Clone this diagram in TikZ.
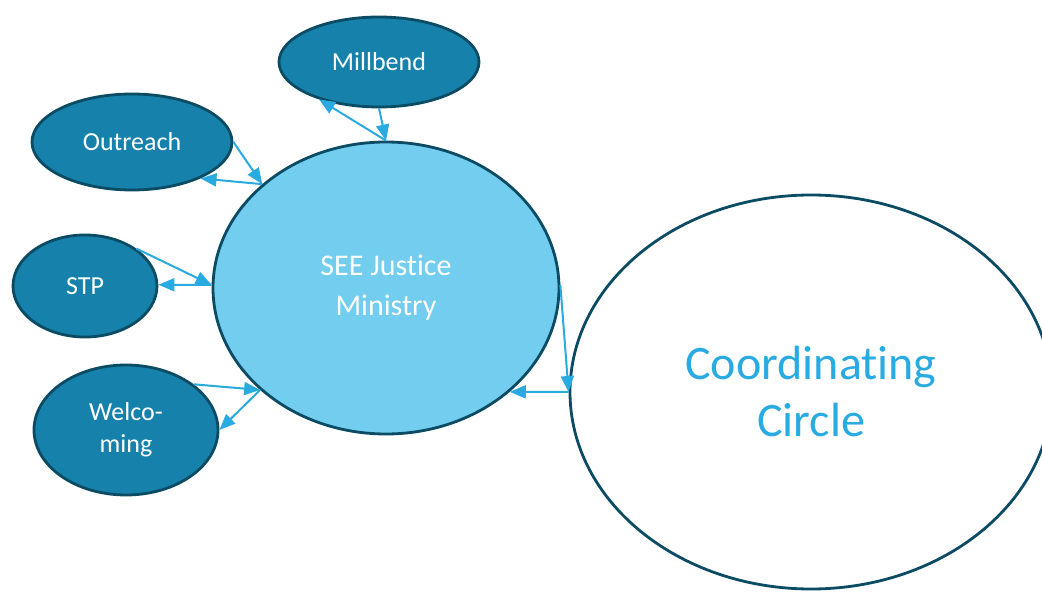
\documentclass[tikz,border=0pt]{standalone}
\usepackage{fontspec}
\setmainfont{Carlito}[Ligatures=NoCommon]
\usetikzlibrary{shapes.geometric,arrows.meta}
\definecolor{darkfill}{RGB}{22,130,171}
\definecolor{rimcol}{RGB}{12,75,100}
\definecolor{lightfill}{RGB}{114,205,239}
\definecolor{arrowcol}{RGB}{41,171,226}

\begin{document}
\begin{tikzpicture}[x=1pt,y=-1pt,
	group/.style={ellipse,draw=rimcol,line width=2.8pt,fill=darkfill,text=white,inner sep=0pt,align=center,font=\fontsize{26}{32}\selectfont},
	link/.style={draw=arrowcol,line width=2pt,-{Triangle[length=16pt,width=13pt]}}]
	
	\useasboundingbox (0,0) rectangle (1042,593);
	
	\node[group,minimum width=200pt,minimum height=90pt] (millbend) at (379,62) {Millbend};
	\node[group,minimum width=200pt,minimum height=96pt] (outreach) at (132,142) {Outreach};
	\node[group,minimum width=144pt,minimum height=102pt] (stp) at (85,286) {STP};
	\node[group,minimum width=184pt,minimum height=130pt] (welcoming) at (126,430) {Welco-\\ming};
	\node[group,fill=lightfill,minimum width=346pt,minimum height=292pt,font=\fontsize{30}{40}\selectfont] (see) at (386,288) {SEE Justice\\Ministry};
	\node[group,fill=white,text=arrowcol,minimum width=482pt,minimum height=394pt,font=\fontsize{48}{57}\selectfont] (coord) at (811,392) {Coordinating\\Circle};
	
	\draw[link] (millbend.270) -- (see.90);
	\draw[link] (see.90) -- (millbend.212);
	\draw[link] (outreach.0) -- (see.140);
	\draw[link] (see.140) -- (outreach.332);
	\draw[link] (stp.36) -- (see.179);
	\draw[link] (see.179) -- (stp.1);
	\draw[link] (welcoming.34) -- (see.219);
	\draw[link] (see.219) -- (welcoming.0);
	\draw[link] (see.1) -- (coord.180);
	\draw[link] (coord.180) -- (see.320);
	
\end{tikzpicture}
\end{document}
